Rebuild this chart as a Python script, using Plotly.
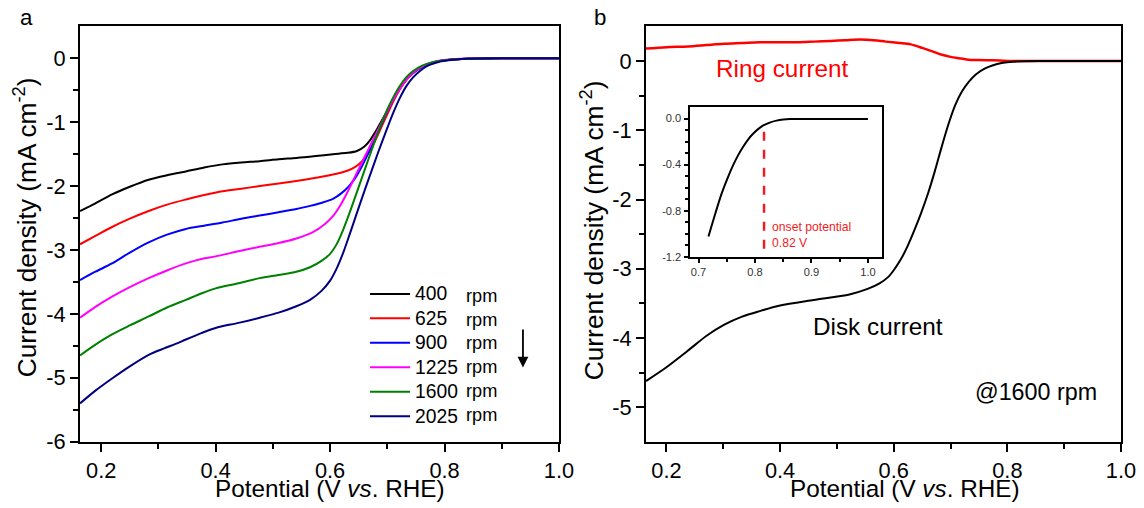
import plotly.graph_objects as go

# ---------------- Panel a data (LSV at different rotation rates) ----------------
rpm_labels = ["400", "625", "900", "1225", "1600", "2025"]
colors_a = ["#000000", "#ff0000", "#0000ff", "#ff00ff", "#008000", "#000080"]

x400 = [0.163, 0.19, 0.219, 0.25, 0.283, 0.315, 0.348, 0.38, 0.412, 0.445, 0.477, 0.510, 0.541, 0.575, 0.605, 0.630, 0.647, 0.660, 0.670, 0.680, 0.690, 0.700, 0.710, 0.720, 0.730, 0.740, 0.750, 0.765, 0.780, 0.80, 0.83, 0.90, 1.0]
y400 = [-2.39, -2.27, -2.13, -2.01, -1.90, -1.83, -1.77, -1.71, -1.66, -1.63, -1.61, -1.58, -1.56, -1.53, -1.50, -1.48, -1.45, -1.38, -1.28, -1.14, -0.98, -0.82, -0.66, -0.50, -0.37, -0.27, -0.19, -0.11, -0.06, -0.03, -0.01, 0.0, 0.0]

x625 = [0.163, 0.19, 0.219, 0.25, 0.283, 0.315, 0.348, 0.38, 0.412, 0.445, 0.477, 0.510, 0.541, 0.575, 0.605, 0.630, 0.644, 0.655, 0.665, 0.676, 0.686, 0.696, 0.706, 0.716, 0.726, 0.736, 0.748, 0.762, 0.78, 0.80, 0.83, 0.90, 1.0]
y625 = [-2.91, -2.78, -2.64, -2.51, -2.39, -2.29, -2.21, -2.14, -2.08, -2.04, -2.00, -1.96, -1.92, -1.87, -1.82, -1.76, -1.70, -1.62, -1.50, -1.34, -1.15, -0.95, -0.76, -0.58, -0.43, -0.31, -0.21, -0.13, -0.07, -0.03, -0.01, 0.0, 0.0]

x900 = [0.163, 0.19, 0.219, 0.25, 0.283, 0.315, 0.348, 0.38, 0.412, 0.445, 0.477, 0.510, 0.541, 0.565, 0.586, 0.605, 0.620, 0.633, 0.645, 0.655, 0.665, 0.675, 0.685, 0.695, 0.705, 0.715, 0.725, 0.735, 0.748, 0.762, 0.78, 0.80, 0.83, 0.90, 1.0]
y900 = [-3.47, -3.34, -3.21, -3.04, -2.88, -2.76, -2.67, -2.62, -2.57, -2.51, -2.46, -2.41, -2.36, -2.31, -2.26, -2.20, -2.11, -2.00, -1.86, -1.70, -1.52, -1.33, -1.13, -0.93, -0.74, -0.57, -0.43, -0.31, -0.21, -0.13, -0.07, -0.03, -0.01, 0.0, 0.0]

x1225 = [0.163, 0.19, 0.219, 0.25, 0.283, 0.315, 0.348, 0.375, 0.400, 0.44, 0.477, 0.510, 0.541, 0.570, 0.590, 0.605, 0.618, 0.630, 0.642, 0.654, 0.665, 0.676, 0.687, 0.698, 0.709, 0.720, 0.731, 0.742, 0.755, 0.770, 0.790, 0.82, 0.90, 1.0]
y1225 = [-4.06, -3.89, -3.73, -3.58, -3.44, -3.32, -3.21, -3.14, -3.10, -3.02, -2.95, -2.89, -2.82, -2.72, -2.60, -2.47, -2.30, -2.10, -1.88, -1.66, -1.46, -1.26, -1.06, -0.86, -0.67, -0.50, -0.36, -0.25, -0.16, -0.09, -0.04, -0.01, 0.0, 0.0]

x1600 = [0.163, 0.19, 0.219, 0.25, 0.283, 0.315, 0.348, 0.375, 0.400, 0.44, 0.477, 0.510, 0.541, 0.565, 0.585, 0.600, 0.612, 0.623, 0.634, 0.645, 0.656, 0.667, 0.678, 0.689, 0.700, 0.711, 0.722, 0.733, 0.745, 0.760, 0.780, 0.80, 0.83, 0.90, 1.0]
y1600 = [-4.65, -4.48, -4.32, -4.18, -4.04, -3.90, -3.78, -3.68, -3.60, -3.52, -3.44, -3.39, -3.34, -3.27, -3.17, -3.06, -2.90, -2.68, -2.42, -2.14, -1.86, -1.58, -1.30, -1.04, -0.80, -0.60, -0.43, -0.30, -0.20, -0.12, -0.06, -0.03, -0.01, 0.0, 0.0]

x2025 = [0.163, 0.19, 0.219, 0.25, 0.283, 0.31, 0.33, 0.348, 0.375, 0.400, 0.44, 0.477, 0.510, 0.541, 0.565, 0.585, 0.600, 0.612, 0.623, 0.634, 0.645, 0.656, 0.667, 0.678, 0.689, 0.700, 0.711, 0.722, 0.733, 0.745, 0.757, 0.770, 0.785, 0.80, 0.83, 0.90, 1.0]
y2025 = [-5.40, -5.20, -5.01, -4.82, -4.64, -4.54, -4.47, -4.40, -4.30, -4.22, -4.14, -4.06, -3.98, -3.88, -3.78, -3.64, -3.48, -3.28, -3.04, -2.76, -2.47, -2.18, -1.90, -1.62, -1.35, -1.09, -0.84, -0.62, -0.44, -0.30, -0.20, -0.12, -0.07, -0.04, -0.01, 0.0, 0.0]

xs_a = [x400, x625, x900, x1225, x1600, x2025]
ys_a = [y400, y625, y900, y1225, y1600, y2025]

# ---------------- Panel b data (RRDE at 1600 rpm) ----------------
disk_x = [0.164, 0.200, 0.238, 0.270, 0.301, 0.333, 0.364, 0.400, 0.459, 0.522, 0.554, 0.575, 0.590, 0.600, 0.612, 0.624, 0.636, 0.648, 0.660, 0.672, 0.684, 0.696, 0.708, 0.720, 0.732, 0.745, 0.760, 0.775, 0.790, 0.810, 0.86, 1.0]
disk_y = [-4.62, -4.42, -4.18, -3.97, -3.81, -3.69, -3.61, -3.53, -3.45, -3.37, -3.29, -3.21, -3.12, -3.02, -2.87, -2.68, -2.45, -2.20, -1.92, -1.60, -1.25, -0.92, -0.64, -0.44, -0.30, -0.19, -0.11, -0.06, -0.03, -0.01, 0.0, 0.0]

ring_x = [0.164, 0.20, 0.238, 0.27, 0.301, 0.333, 0.364, 0.40, 0.428, 0.46, 0.490, 0.515, 0.541, 0.565, 0.586, 0.61, 0.630, 0.650, 0.668, 0.685, 0.700, 0.715, 0.731, 0.750, 0.775, 0.807, 0.90, 1.0]
ring_y = [0.18, 0.20, 0.21, 0.23, 0.25, 0.26, 0.27, 0.27, 0.27, 0.28, 0.29, 0.30, 0.31, 0.30, 0.28, 0.26, 0.24, 0.19, 0.14, 0.09, 0.06, 0.04, 0.02, 0.015, 0.01, 0.0, 0.0, 0.0]

# Inset (onset region)
inset_x = [0.7176, 0.730, 0.741, 0.752, 0.7617, 0.770, 0.779, 0.788, 0.797, 0.806, 0.8146, 0.826, 0.838, 0.850, 0.862, 0.90, 1.0]
inset_y = [-1.024, -0.82, -0.65, -0.51, -0.40, -0.32, -0.245, -0.18, -0.13, -0.09, -0.06, -0.035, -0.018, -0.009, -0.005, -0.004, -0.005]
onset_v = 0.816
onset_span = [-0.114, -1.2]

# Tick labels
xa_ticks = [0.2, 0.4, 0.6, 0.8, 1.0]
xa_text = ["0.2", "0.4", "0.6", "0.8", "1.0"]
ya_ticks = [0, -1, -2, -3, -4, -5, -6]
ya_text = ["0", "-1", "-2", "-3", "-4", "-5", "-6"]
yb_ticks = [0, -1, -2, -3, -4, -5]
yb_text = ["0", "-1", "-2", "-3", "-4", "-5"]
xi_ticks = [0.7, 0.8, 0.9, 1.0]
xi_text = ["0.7", "0.8", "0.9", "1.0"]
yi_ticks = [0.0, -0.4, -0.8, -1.2]
yi_text = ["0.0", "-0.4", "-0.8", "-1.2"]

FONT = "Liberation Sans, Arial, sans-serif"

# Reference frame is 1144 x 508; the captured page is scaled by ~0.987,
# so the canvas is made correspondingly larger.
W, H = 1144, 508
K = 0.987
CW, CH = round(W / K), round(H / K)
SF = 1 / K

def fs(s):
    return round(s * SF, 1)

def px(x):
    return x / W

def py(y):
    return 1 - y / H

fig = go.Figure()

for lab, col, xx, yy in zip(rpm_labels, colors_a, xs_a, ys_a):
    fig.add_trace(go.Scatter(
        x=xx, y=yy, mode="lines", line=dict(color=col, width=2, shape="spline", smoothing=0.8),
        name='<span style="font-size:%spx">%s</span>' % (fs(19), lab),
        xaxis="x", yaxis="y", showlegend=True))

fig.add_trace(go.Scatter(x=ring_x, y=ring_y, mode="lines",
                         line=dict(color="#ff0000", width=2.5, shape="spline", smoothing=0.8),
                         xaxis="x2", yaxis="y2", showlegend=False))
fig.add_trace(go.Scatter(x=disk_x, y=disk_y, mode="lines",
                         line=dict(color="#000000", width=2, shape="spline", smoothing=0.8),
                         xaxis="x2", yaxis="y2", showlegend=False))
fig.add_trace(go.Scatter(x=inset_x, y=inset_y, mode="lines",
                         line=dict(color="#000000", width=2, shape="spline", smoothing=0.8),
                         xaxis="x3", yaxis="y3", showlegend=False))
fig.add_trace(go.Scatter(x=[onset_v, onset_v], y=onset_span, mode="lines",
                         line=dict(color="#ee1c25", width=2.5, dash="dash"),
                         xaxis="x3", yaxis="y3", showlegend=False))

ax_common = dict(showline=True, linecolor="black", linewidth=2, mirror=True,
                 ticks="outside", tickcolor="black", tickwidth=2, ticklen=8,
                 showgrid=False, zeroline=False, ticklabelstandoff=0,
                 tickfont=dict(family=FONT, size=fs(21.5), color="black"))
minor_common = dict(ticklen=5, tickwidth=2, ticks="outside", tickcolor="black")

fig.update_layout(
    width=CW, height=CH, autosize=False, margin=dict(l=0, r=0, t=0, b=0, pad=0),
    paper_bgcolor="white", plot_bgcolor="white",
    font=dict(family=FONT, color="black"),
    xaxis=dict(domain=[px(80), px(559)], range=[0.163, 1.0], tickvals=xa_ticks, ticktext=xa_text,
               minor=dict(tickvals=[0.3, 0.5, 0.7, 0.9], **minor_common),
               anchor="y", **ax_common),
    yaxis=dict(domain=[py(447), py(26)], range=[-6, 0.51], tickvals=ya_ticks, ticktext=ya_text,
               minor=dict(tickvals=[-0.5, -1.5, -2.5, -3.5, -4.5, -5.5], **minor_common),
               anchor="x", **ax_common),
    xaxis2=dict(domain=[px(646), px(1121)], range=[0.164, 1.0], tickvals=xa_ticks, ticktext=xa_text,
                minor=dict(tickvals=[0.3, 0.5, 0.7, 0.9], **minor_common),
                anchor="y2", **ax_common),
    yaxis2=dict(domain=[py(447.3), py(26.7)], range=[-5.5, 0.5], tickvals=yb_ticks, ticktext=yb_text,
                minor=dict(tickvals=[-0.5, -1.5, -2.5, -3.5, -4.5], **minor_common),
                anchor="x2", **ax_common),
    xaxis3=dict(domain=[px(689.5), px(881.5)], range=[0.684, 1.024], tickvals=xi_ticks, ticktext=xi_text,
                minor=dict(tickvals=[0.75, 0.85, 0.95], ticklen=3, tickwidth=1.5, ticks="outside", tickcolor="black"),
                anchor="y3", showline=True, linecolor="black", linewidth=2, mirror=True,
                ticks="outside", tickcolor="black", tickwidth=1.5, ticklen=4, showgrid=False, zeroline=False,
                tickfont=dict(family=FONT, size=fs(11), color="#333333")),
    yaxis3=dict(domain=[py(259.8), py(108.3)], range=[-1.2, 0.1], tickvals=yi_ticks, ticktext=yi_text,
                minor=dict(tickvals=[-0.1, -0.2, -0.3, -0.5, -0.6, -0.7, -0.9, -1.0, -1.1], ticklen=3, tickwidth=1.5, ticks="outside", tickcolor="black"),
                anchor="x3", showline=True, linecolor="black", linewidth=2, mirror=True,
                ticks="outside", tickcolor="black", tickwidth=1.5, ticklen=4, showgrid=False, zeroline=False,
                tickfont=dict(family=FONT, size=fs(11), color="#333333")),
    legend=dict(x=px(365), y=py(280), xanchor="left", yanchor="top", bgcolor="rgba(0,0,0,0)",
                font=dict(family=FONT, size=16.5, color="black"), itemwidth=40, tracegroupgap=0),
)

def txt(text, x, y, size, color="black", **kw):
    d = dict(text=text, x=px(x), y=py(y), xref="paper", yref="paper", showarrow=False,
             xanchor="center", yanchor="middle", font=dict(family=FONT, size=fs(size), color=color))
    d.update(kw)
    return d

annotations = [
    txt("a", 26, 18, 22),
    txt("b", 600, 18, 22),
    txt("Potential (V <i>vs</i>. RHE)", 330, 494, 24),
    txt("Potential (V <i>vs</i>. RHE)", 905, 494, 24),
    txt("Current density (mA cm<sup>-2</sup>)", 25, 230, 26, textangle=-90),
    txt("Current density (mA cm<sup>-2</sup>)", 592, 233, 26, textangle=-90),
    txt("Ring current", 782, 69, 24, color="#ff0000"),
    txt("Disk current", 878, 330, 24),
    txt("@1600 rpm", 1036, 397, 23),
    txt("onset potential<br>0.82 V", 770, 238, 12, color="#ee1c25", xanchor="left", align="left"),
    dict(text="", x=0.937, y=-4.84, ax=0.937, ay=-4.22, xref="x", yref="y", axref="x", ayref="y",
         showarrow=True, arrowhead=2, arrowsize=1.2, arrowwidth=1.8, arrowcolor="black"),
]
# "rpm" unit next to each legend entry
for yy in [299.5, 323.5, 347.5, 371.5, 395.5, 419.5]:
    annotations.append(txt("rpm", 464, yy, 18, xanchor="left"))

fig.update_layout(annotations=annotations)
fig.write_html("out.html")
